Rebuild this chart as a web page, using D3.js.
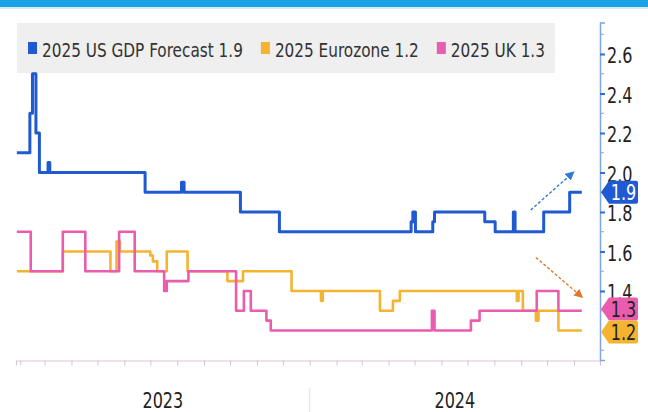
<!DOCTYPE html>
<html>
<head>
<meta charset="utf-8">
<script src="https://cdn.jsdelivr.net/npm/d3@7"></script>
<style>
  html, body { margin: 0; padding: 0; background: #fff; }
  svg { display: block; }
  text { font-family: "DejaVu Sans Condensed", "Liberation Sans Narrow", sans-serif; }
</style>
</head>
<body>
<svg id="chart" width="648" height="412"></svg>
<script>
// ---- data: 2025 GDP growth forecasts (%) — change points of each step series ----
const usDates = ["2023-01-28","2023-02-12","2023-02-15","2023-02-19","2023-02-23","2023-03-05","2023-03-07",
  "2023-06-25","2023-08-06","2023-08-09","2023-10-13","2023-11-27","2024-04-27","2024-04-29","2024-05-02",
  "2024-05-22","2024-05-24","2024-07-21","2024-08-02","2024-08-23","2024-08-25","2024-09-27","2024-10-27","2024-11-10"];
const usValues = [2.1,2.3,2.5,2.2,2.0,2.05,2.0,1.9,1.95,1.9,1.8,1.7,1.75,1.8,1.7,1.75,1.8,1.75,1.7,1.8,1.7,1.8,1.9,1.9];

const euDates = ["2023-01-28","2023-03-22","2023-05-16","2023-05-23","2023-05-27","2023-07-01","2023-07-04","2023-07-09",
  "2023-07-20","2023-08-13","2023-09-28","2023-10-16","2023-12-11","2024-01-14","2024-01-16","2024-03-22","2024-04-06",
  "2024-04-14","2024-08-27","2024-08-29","2024-09-03","2024-09-18","2024-09-21","2024-10-14","2024-11-10"];
const euValues = [1.5,1.6,1.5,1.65,1.6,1.58,1.55,1.5,1.6,1.5,1.45,1.5,1.4,1.35,1.4,1.3,1.35,1.4,1.35,1.4,1.3,1.25,1.3,1.2,1.2];

const ukDates = ["2023-01-28","2023-02-13","2023-03-22","2023-04-17","2023-05-26","2023-06-13","2023-07-17","2023-07-20",
  "2023-08-14","2023-10-08","2023-10-17","2023-10-25","2023-11-12","2023-11-17","2024-05-21","2024-05-24","2024-07-05",
  "2024-07-15","2024-09-19","2024-10-14","2024-11-10"];
const ukValues = [1.7,1.5,1.7,1.5,1.7,1.5,1.4,1.45,1.5,1.3,1.4,1.3,1.25,1.2,1.3,1.2,1.25,1.3,1.4,1.3,1.3];

const seriesNames  = ["2025 US GDP Forecast", "2025 Eurozone", "2025 UK"];
const seriesColors = ["#1f5ad2", "#f4b432", "#ea5cae"];
const seriesLast   = [1.9, 1.2, 1.3];

const yTickValues  = [1.4, 1.6, 1.8, 2.0, 2.2, 2.4, 2.6];
const yMinorValues = [1.1, 1.3, 1.5, 1.7, 1.9, 2.1, 2.3, 2.5, 2.7];
const yearLabels   = ["2023", "2024"];

// trend arrows: [start date, start value, end date, end value, colour]
const trendArrows = [
  ["2024-09-12", 1.81, "2024-10-31", 2.0, "#2f7ad6"],
  ["2024-09-18", 1.57, "2024-11-10", 1.37, "#e07a2a"]
];

// ---- layout ----
const NARROW = 0.85;   // horizontal squeeze giving a narrow typeface look
const svg = d3.select("#chart");
const parse = d3.timeParse("%Y-%m-%d");

const x = d3.scaleTime()
  .domain([new Date(2023, 0, 27), new Date(2024, 11, 1)])
  .range([16, 600]);
const y = d3.scaleLinear()
  .domain([1.05, 2.76])
  .range([360.1, 22.4]);

function narrowText(parent, tx, ty, size) {
  return parent.append("text")
    .attr("transform", `translate(${tx},${ty}) scale(${NARROW},1)`)
    .attr("font-size", size);
}

// top banner strip
svg.append("rect").attr("x", 0).attr("y", 0).attr("width", 648).attr("height", 7).attr("fill", "#1aa2e6");
svg.append("rect").attr("x", 0).attr("y", 7).attr("width", 648).attr("height", 2).attr("fill", "#d6eefa");

// legend
const legend = svg.append("g");
legend.append("rect").attr("x", 17).attr("y", 23).attr("width", 538).attr("height", 50).attr("fill", "#efefef");
let lx = 28;
seriesNames.forEach((name, i) => {
  legend.append("rect").attr("x", lx).attr("y", 42).attr("width", 9).attr("height", 12).attr("fill", seriesColors[i]);
  const t = narrowText(legend, lx + 14, 56.5, 20).attr("fill", "#333")
    .text(`${name} ${d3.format(".1f")(seriesLast[i])}`);
  lx += 14 + t.node().getComputedTextLength() * NARROW + 18;
});

// x axis (monthly ticks)
const xAxis = svg.append("g").attr("transform", "translate(0,360.5)")
  .call(d3.axisBottom(x).ticks(d3.timeMonth.every(1)).tickSize(5).tickFormat(""));
xAxis.select(".domain").attr("stroke", "#dcc3d6").attr("stroke-width", 1.2);
xAxis.selectAll(".tick line").attr("stroke", "#d6c0d2");

// year labels and separator
const yearStart = new Date(2024, 0, 1);
svg.append("line").attr("x1", x(yearStart)).attr("x2", x(yearStart)).attr("y1", 388).attr("y2", 412)
  .attr("stroke", "#e2e2e2").attr("stroke-width", 1);
const yearSpans = [[x.range()[0], x(yearStart)], [x(yearStart), x.range()[1]]];
yearLabels.forEach((lab, i) => {
  narrowText(svg, (yearSpans[i][0] + yearSpans[i][1]) / 2, 408, 21)
    .attr("text-anchor", "middle").attr("fill", "#222").text(lab);
});

// right y axis
const yAxis = svg.append("g").attr("transform", "translate(600,0)")
  .call(d3.axisRight(y).tickValues(yTickValues).tickSize(5).tickPadding(2).tickFormat(d3.format(".1f")));
yAxis.select(".domain").attr("stroke", "#7ea6e4").attr("stroke-width", 1.5);
yAxis.selectAll(".tick line").attr("stroke", "#2f6fd6").attr("stroke-width", 2);
yAxis.selectAll(".tick text")
  .attr("x", 7 / NARROW)
  .attr("transform", `scale(${NARROW},1)`)
  .attr("font-size", 21).attr("fill", "#222").attr("dy", "0.42em")
  .style("font-family", "'DejaVu Sans Condensed', sans-serif");
svg.append("g").selectAll("line").data(yMinorValues).join("line")
  .attr("x1", 600).attr("x2", 604).attr("y1", d => y(d)).attr("y2", d => y(d))
  .attr("stroke", "#7ea6e4").attr("stroke-width", 1);

// lines
const line = d3.line().x(d => x(d.date)).y(d => y(d.value)).curve(d3.curveStepAfter);
const toPoints = (ds, vs) => ds.map((d, i) => ({ date: parse(d), value: vs[i] }));
const series = [
  { pts: toPoints(usDates, usValues), color: seriesColors[0], w: 3 },
  { pts: toPoints(euDates, euValues), color: seriesColors[1], w: 2.6 },
  { pts: toPoints(ukDates, ukValues), color: seriesColors[2], w: 2.6 }
];
series.forEach(s => {
  svg.append("path").datum(s.pts).attr("d", line)
    .attr("fill", "none").attr("stroke", s.color).attr("stroke-width", s.w)
    .attr("stroke-linejoin", "round");
});

// dashed trend arrows
const defs = svg.append("defs");
trendArrows.forEach((a, i) => {
  defs.append("marker").attr("id", "ah" + i).attr("viewBox", "0 0 10 10").attr("refX", 8).attr("refY", 5)
    .attr("markerWidth", 9).attr("markerHeight", 9).attr("markerUnits", "userSpaceOnUse").attr("orient", "auto")
    .append("path").attr("d", "M0,0L10,5L0,10Z").attr("fill", a[4]);
  svg.append("line")
    .attr("x1", x(parse(a[0]))).attr("y1", y(a[1]))
    .attr("x2", x(parse(a[2]))).attr("y2", y(a[3]))
    .attr("stroke", a[4]).attr("stroke-width", 1.4).attr("stroke-dasharray", "3,2")
    .attr("marker-end", `url(#ah${i})`);
});

// last-value tags on the axis, spread apart where they collide
const tagH = 23;
const tags = seriesLast.map((v, i) => ({ v, color: seriesColors[i], cy: y(v), text: i === 0 ? "#fff" : "#222" }))
  .sort((a, b) => a.cy - b.cy);
for (let k = 1; k < tags.length; k++) {
  const gap = tags[k].cy - tags[k - 1].cy;
  if (gap < tagH) {
    const mid = (tags[k].cy + tags[k - 1].cy) / 2;
    tags[k - 1].cy = mid - tagH / 2;
    tags[k].cy = mid + tagH / 2;
  }
}
tags.forEach(t => {
  const x0 = 601, xb = 609, x1 = 638, h = tagH / 2;
  const p = `M${x0},${t.cy} L${xb},${t.cy - h} L${x1 - 2},${t.cy - h} Q${x1},${t.cy - h} ${x1},${t.cy - h + 2}
             L${x1},${t.cy + h - 2} Q${x1},${t.cy + h} ${x1 - 2},${t.cy + h} L${xb},${t.cy + h} Z`;
  svg.append("path").attr("d", p).attr("fill", t.color);
  narrowText(svg, 623.5, t.cy, 21).attr("dy", "0.36em").attr("text-anchor", "middle")
    .attr("fill", t.text).text(d3.format(".1f")(t.v));
});
</script>
</body>
</html>
